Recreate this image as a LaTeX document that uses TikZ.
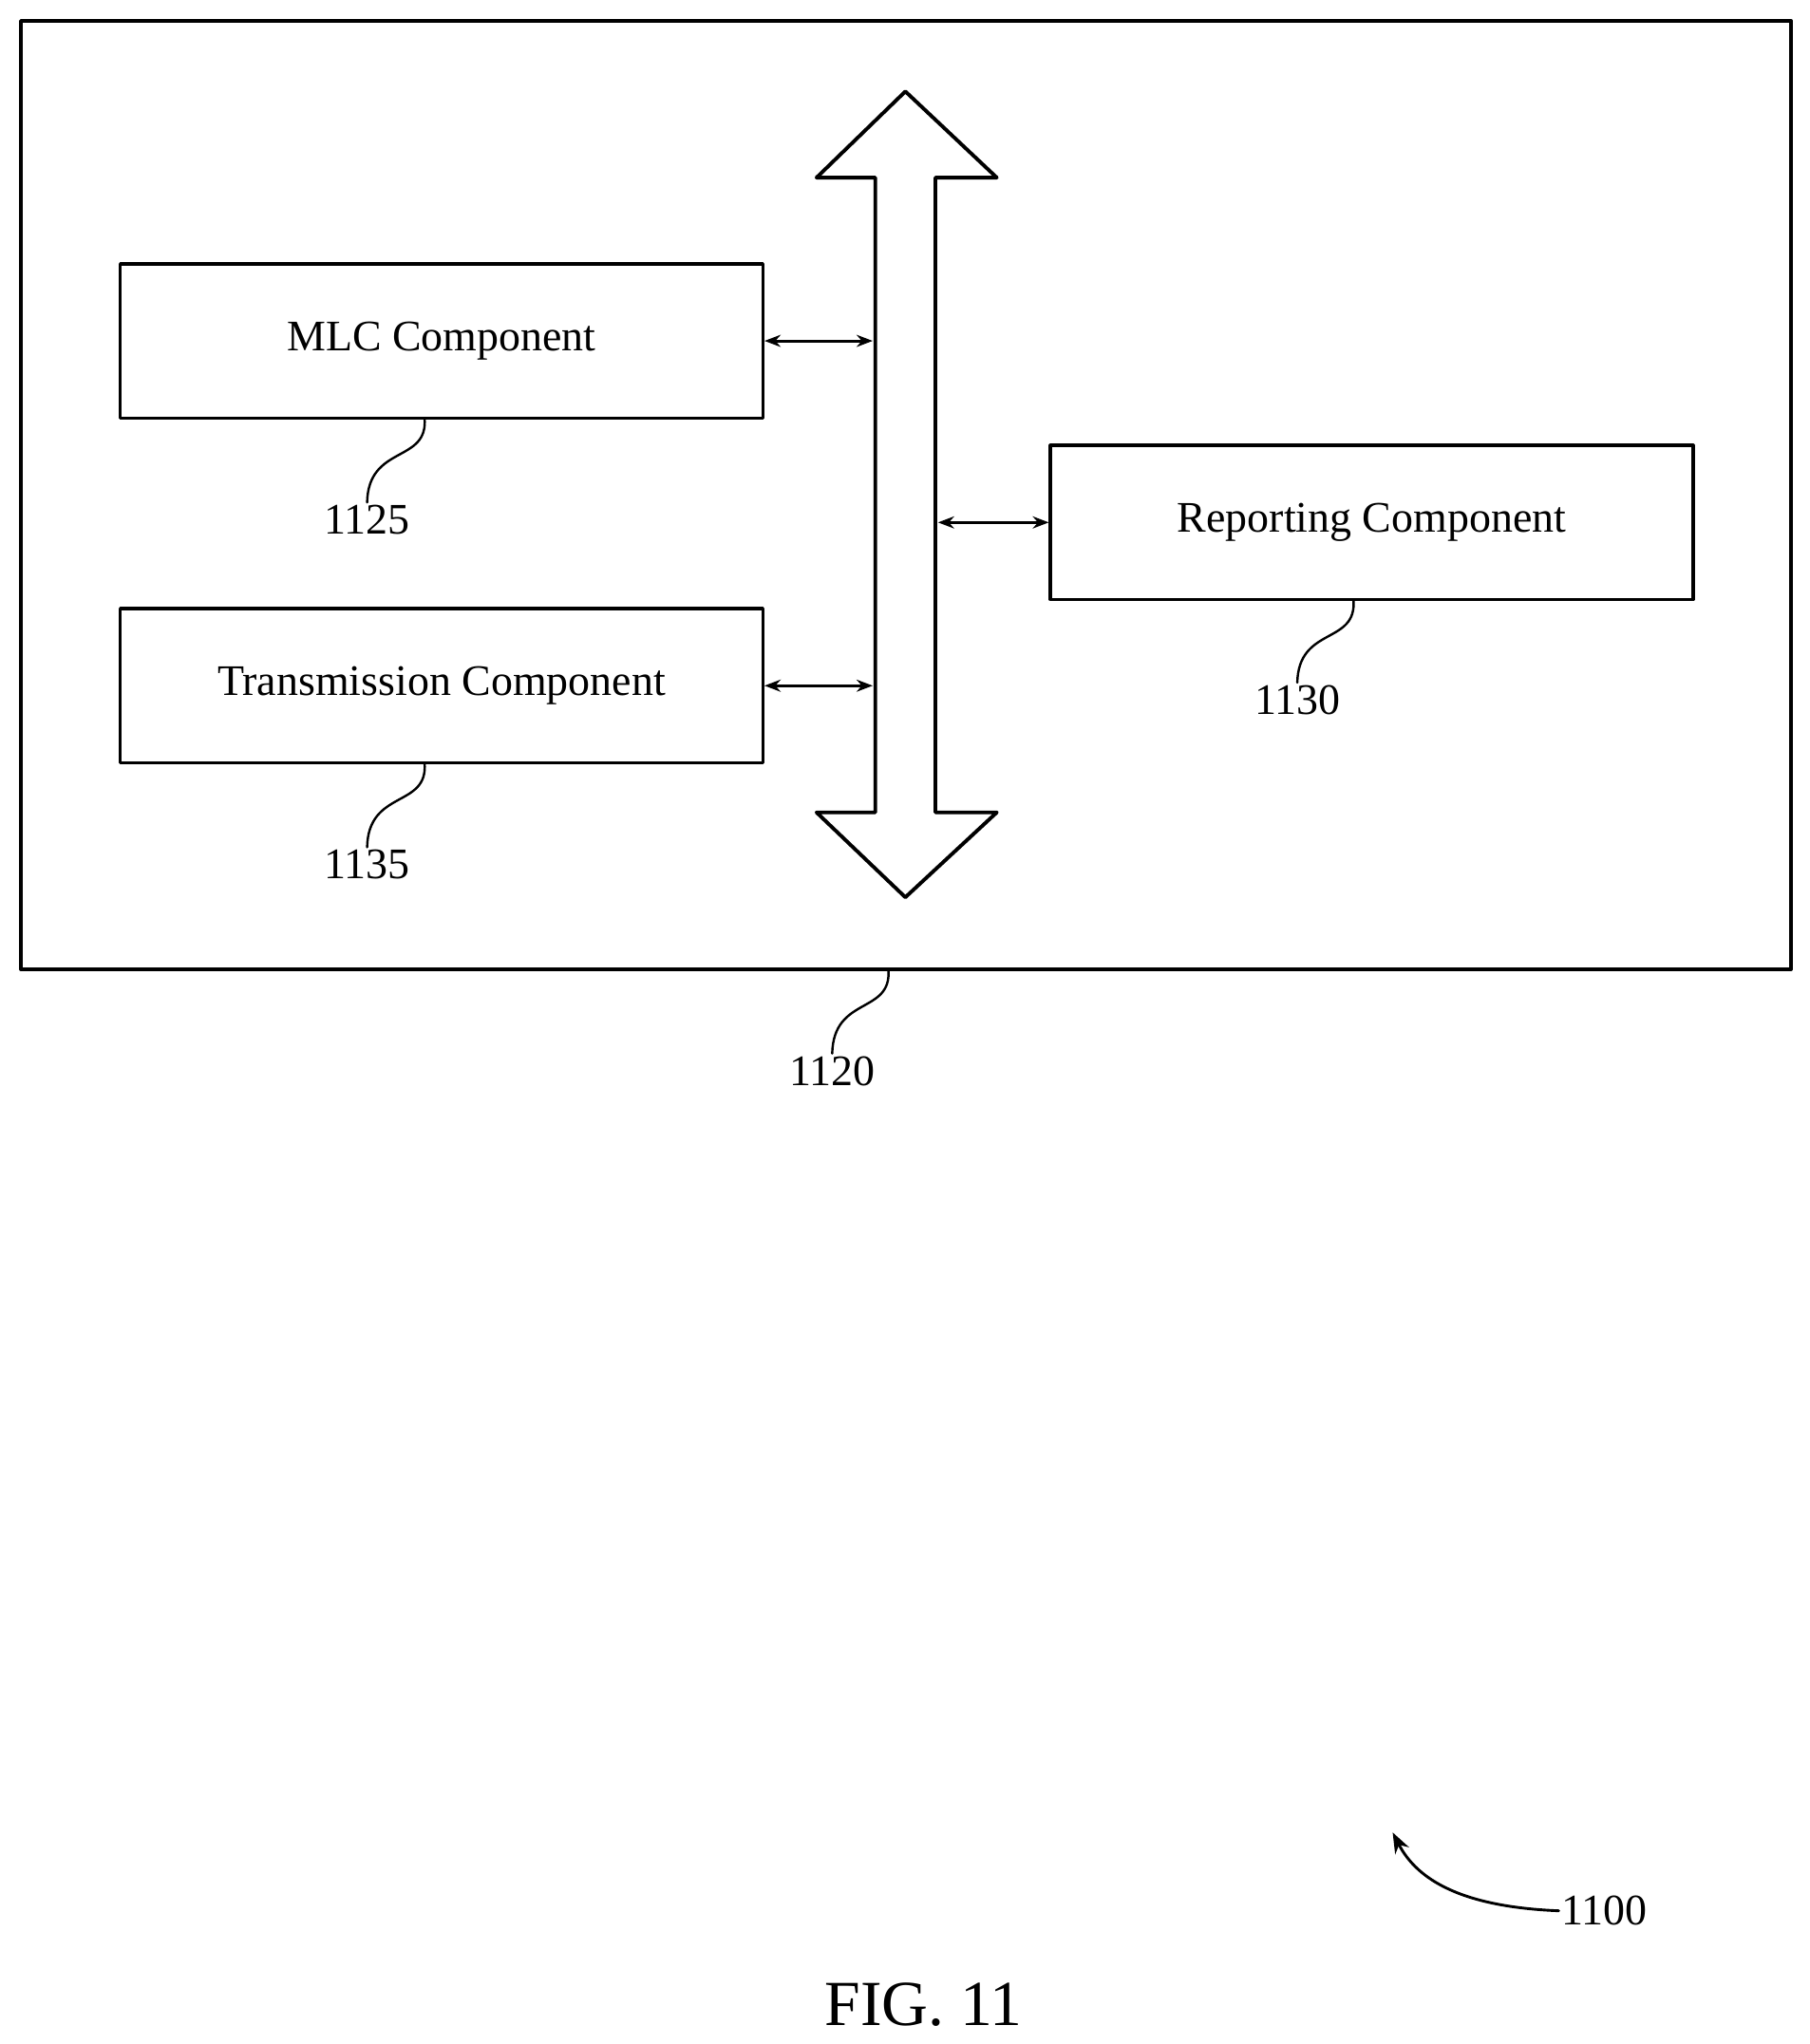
\documentclass[tikz,border=0pt]{standalone}
\usepackage{fontspec}
\setmainfont{Liberation Serif}
\usetikzlibrary{positioning}
\usetikzlibrary{arrows.meta}

\begin{document}
\begin{tikzpicture}[x = 0.02cm, y = -0.02cm, line cap = round, line join = round,
  box/.style = {draw, line width = 1.4pt, minimum width = 9.84cm,
    minimum height = 2.36cm, font = \fontsize{19}{22}\selectfont},
  lbl/.style = {font = \fontsize{19}{22}\selectfont, inner sep = 1pt},
  link/.style = {line width = 1.2pt, {Stealth[length = 7pt]}-{Stealth[length = 7pt]}},
  squig/.style = {line width = 1pt}]
  \useasboundingbox (0, 0) rectangle (1385, 1565);

  % outer box
  \draw[line width = 1.6pt] (16, 16) coordinate (TL) rectangle (1371, 742);
  \coordinate (outB) at (680, 742);

  % bus
  \draw[line width = 1.6pt] (670, 136) -- (625, 136) -- (693, 70) -- (763, 136)
    -- (716, 136) -- (716, 622) -- (763, 622) -- (693, 687) -- (625, 622)
    -- (670, 622) -- cycle;
  \coordinate (busL1) at (668, 261);
  \coordinate (busL2) at (668, 525);
  \coordinate (busR) at (718, 400);

  % components
  \node[box] (mlc) at (338, 261) {MLC Component};
  \node[box] (tx) at (338, 525) {Transmission Component};
  \node[box] (rep) at (1050, 400) {Reporting Component};

  \draw[link] (mlc.east) -- (busL1);
  \draw[link] (tx.east) -- (busL2);
  \draw[link] (busR) -- (rep.west);

  % reference numerals
  \node[lbl] (n1125) at (281, 398) {1125};
  \node[lbl] (n1135) at (281, 662) {1135};
  \node[lbl] (n1130) at (993, 536) {1130};
  \node[lbl] (n1120) at (637, 820) {1120};
  \draw[squig] (325, 320) .. controls (328, 355) and (282, 340) .. (n1125.north);
  \draw[squig] (325, 584) .. controls (328, 619) and (282, 604) .. (n1135.north);
  \draw[squig] (1036, 459) .. controls (1039, 494) and (994, 479) .. (n1130.north);
  \draw[squig] (outB) .. controls (683, 777) and (638, 762) .. (n1120.north);

  \node[lbl] (n1100) at (1228, 1463) {1100};
  \coordinate (tip) at (1066, 1403);
  \draw[line width = 1.2pt, -{Stealth[length = 9pt]}] (n1100.west)
    .. controls (1120, 1460) and (1085, 1440) .. (tip);

  \node[font = \fontsize{28}{32}\selectfont] (fig) at (707, 1535) {FIG. 11};
\end{tikzpicture}
\end{document}
